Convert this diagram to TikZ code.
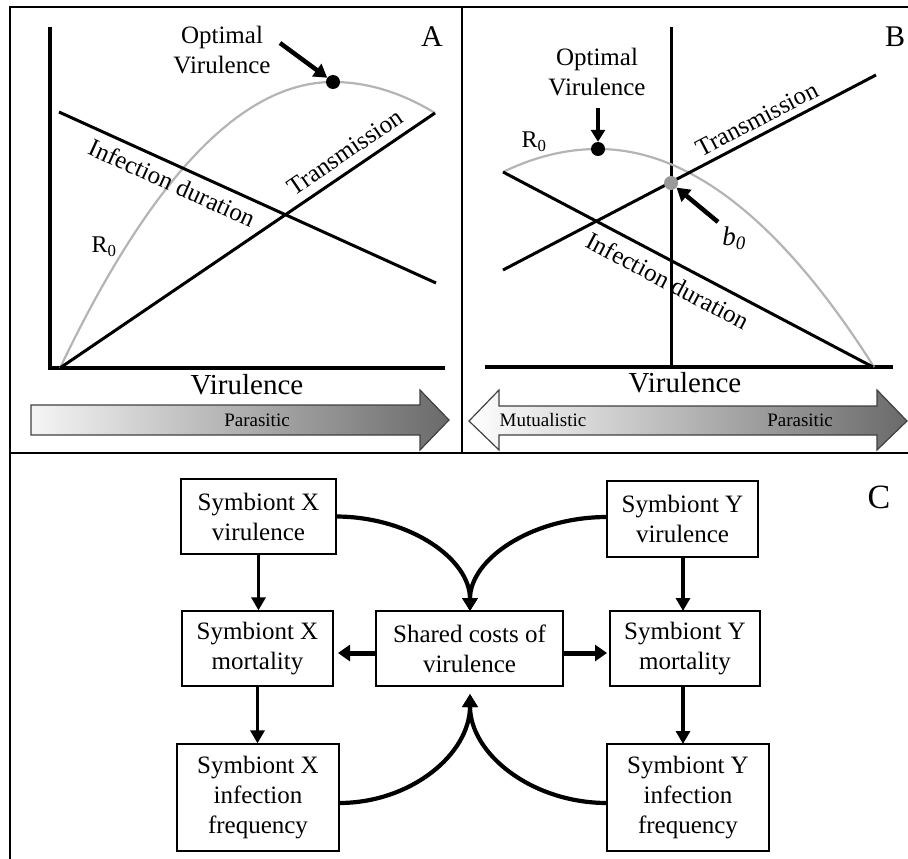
\documentclass[tikz,border=0pt]{standalone}
\usepackage{fontspec}
\setmainfont{Liberation Serif}
\usetikzlibrary{arrows.meta}
\definecolor{curvegray}{HTML}{B4B4B4}
\definecolor{dotgray}{HTML}{9A9A9A}
\definecolor{shadedark}{HTML}{6A6A6A}
\begin{document}
\begin{tikzpicture}[x=1pt,y=-1pt,
  frame/.style={line width=2.5pt},
  axisline/.style={line width=3.5pt},
  plotline/.style={line width=3pt},
  rcurve/.style={line width=2.2pt,draw=curvegray},
  lbl/.style={font=\fontsize{25}{30}\selectfont,align=center,inner sep=0pt},
  axlbl/.style={font=\fontsize{29}{34}\selectfont,inner sep=0pt},
  panel/.style={font=\fontsize{30}{34}\selectfont,inner sep=0pt},
  small/.style={font=\fontsize{19}{22}\selectfont,inner sep=0pt},
  fatarrow/.style={line width=4.5pt,-{Triangle[length=13pt,width=15pt]}},
  bigdot/.style={circle,fill=black,minimum size=14pt,inner sep=0pt},
  greydot/.style={circle,fill=dotgray,minimum size=14pt,inner sep=0pt},
  shadearrow/.style={draw=black!75,line width=1.2pt},
  box/.style={draw,line width=1.3pt,align=center,inner sep=0pt,font=\fontsize{25}{30}\selectfont},
  varrow/.style={line width=3.2pt,-{Triangle[length=13pt,width=14pt]}},
  harrow/.style={line width=5pt,-{Triangle[length=12pt,width=16pt]}},
  carrow/.style={line width=4.2pt,-{Triangle[length=13pt,width=15pt]}}
]
\useasboundingbox (0,0) rectangle (908,859);

% frame
\draw[frame] (10,859) -- (10,7) -- (908,7);
\draw[frame] (10,453) -- (908,453);
\draw[frame] (462,7) -- (462,453);

% ---------------- Panel A ----------------
\coordinate (aO) at (60,368);
\draw[axisline] (50,27) -- (50,368) -- (445,368);
\draw[rcurve] plot[domain=60:333,samples=60] (\x,{82+38.38*((\x-333)/100)^2})
   -- plot[domain=333:435,samples=30] (\x,{82+29.8*((\x-333)/100)^2});
\draw[plotline] (aO) -- (435,113);
\draw[plotline] (59,112) -- (436,283);
\node[bigdot] (aopt) at (333,82) {};
\node[lbl] (aoptlbl) at (222,50) {Optimal\\Virulence};
\coordinate (aarrs) at (280,43);
\draw[fatarrow] (aarrs) -- (aopt);
\node[panel] (A) at (432,37) {A};
\node[lbl,rotate=-24.4] (ainf) at (172,183) {Infection duration};
\node[lbl,rotate=34.2] (atr) at (345,152) {Transmission};
\node[font=\fontsize{24}{28}\selectfont,inner sep=0pt] (ar0) at (104,247) {R\textsubscript{0}};
\node[axlbl] (avir) at (247,385) {Virulence};
\shade[shadearrow,left color=white!96!black,right color=shadedark]
  (31,405) -- (420,405) -- (420,390) -- (449,420) -- (420,450) -- (420,435) -- (31,435) -- cycle;
\node[small] (apar) at (257,420) {Parasitic};

% ---------------- Panel B ----------------
\draw[axisline] (485,367) -- (893,367);
\draw[plotline] (671,27) -- (671,367);
\draw[rcurve] plot[domain=503:598,samples=30] (\x,{149+25.5*((\x-598)/100)^2})
   -- plot[domain=598:874,samples=60] (\x,{149+28.62*((\x-598)/100)^2});
\draw[plotline] (503,270) -- (876,75);
\draw[plotline] (503,172) -- (873,367);
\node[bigdot] (bopt) at (598,149) {};
\node[greydot] (bb0) at (671,183) {};
\node[lbl] (boptlbl) at (597,72) {Optimal\\Virulence};
\coordinate (bdarr) at (598,108);
\draw[line width=4.5pt,-{Triangle[length=12pt,width=14pt]}] (bdarr) -- (bopt);
\node[font=\fontsize{24}{28}\selectfont,inner sep=0pt] (br0) at (534,142) {R\textsubscript{0}};
\node[font=\fontsize{27}{30}\selectfont\itshape,inner sep=0pt] (bb0lbl) at (734,238) {b\textsubscript{0}};
\coordinate (bbarr) at (718,222);
\draw[fatarrow] (bbarr) -- (bb0);
\node[panel] (B) at (895,37) {B};
\node[lbl,rotate=27.6] (btr) at (757,119) {Transmission};
\node[lbl,rotate=-27.8] (binf) at (668,281) {Infection duration};
\node[axlbl] (bvir) at (685,383) {Virulence};
\shade[shadearrow,left color=white,middle color=white!94!black,right color=shadedark]
  (469,421) -- (499,390) -- (499,406) -- (877,406) -- (877,390) -- (907,421) -- (877,450) -- (877,435) -- (499,435) -- (499,450) -- cycle;
\node[small] (bmut) at (543,420) {Mutualistic};
\node[small] (bpar) at (800,420) {Parasitic};

% ---------------- Panel C ----------------
\node[panel,font=\fontsize{34}{38}\selectfont] (C) at (879,497) {C};
\node[box,minimum width=155pt,minimum height=75pt] (xv) at (258.5,516.5) {Symbiont X\\virulence};
\node[box,minimum width=151pt,minimum height=76pt] (yv) at (682.5,519) {Symbiont Y\\virulence};
\node[box,minimum width=151pt,minimum height=75pt] (xm) at (257.5,648.5) {Symbiont X\\mortality};
\node[box,minimum width=187pt,minimum height=75pt] (sh) at (469.5,648.5) {Shared costs of\\virulence};
\node[box,minimum width=150pt,minimum height=75pt] (ym) at (685,648.5) {Symbiont Y\\mortality};
\node[box,minimum width=162pt,minimum height=107pt] (xi) at (258,797.5) {Symbiont X\\infection\\frequency};
\node[box,minimum width=162pt,minimum height=107pt] (yi) at (688,797.5) {Symbiont Y\\infection\\frequency};

\draw[varrow] (xv.south) -- (xv.south |- xm.north);
\draw[varrow] (xm.south) -- (xm.south |- xi.north);
\draw[varrow] (683,557) -- (683,611);
\coordinate (ymb) at (683,686);
\coordinate (yit) at (683,744);
\draw[varrow] (ymb) -- (yit);

\coordinate (xmr) at (338,653);
\coordinate (ymleft) at (607,653);
\draw[harrow] (sh.west |- xmr) -- (xmr);
\draw[harrow] (sh.east |- ymleft) -- (ymleft);

\coordinate (shtop) at (470,611);
\coordinate (shbot) at (470,694);
\draw[carrow] (xv.east) .. controls (410,517) and (470,559) .. (shtop);
\draw[carrow] (607,517) .. controls (532,517) and (470,559) .. (shtop);
\draw[carrow] (339,803) .. controls (411,803) and (470,754) .. (shbot);
\draw[carrow] (607,803) .. controls (532,803) and (470,754) .. (shbot);
\end{tikzpicture}
\end{document}
